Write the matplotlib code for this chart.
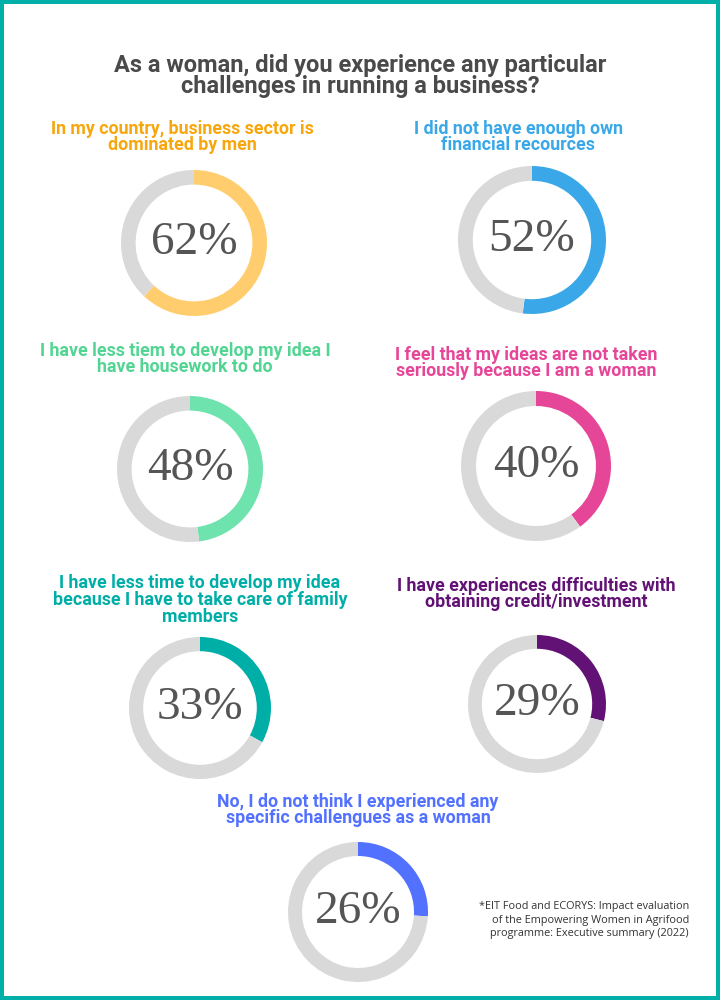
import matplotlib.pyplot as plt
from matplotlib.patches import Rectangle
from matplotlib import font_manager

# data
labels = [
    "In my country, business sector is\ndominated by men",
    "I did not have enough own\nfinancial recources",
    "I have less tiem to develop my idea I\nhave housework to do",
    "I feel that my ideas are not taken\nseriously because I am a woman",
    "I have less time to develop my idea\nbecause I have to take care of family\nmembers",
    "I have experiences difficulties with\nobtaining credit/investment",
    "No, I do not think I experienced any\nspecific challengues as a woman",
]
percents = [62, 52, 48, 40, 33, 29, 26]
ring_colors = ["#ffcd6e", "#3aa8e8", "#6ee3ad", "#e64697", "#00aea8", "#621275", "#5271ff"]
text_colors = ["#f7a70c", "#3aa8e8", "#52d492", "#e64697", "#00aea8", "#621275", "#5271ff"]

title = "As a woman, did you experience any particular\nchallenges in running a business?"
source = ("*EIT Food and ECORYS: Impact evaluation\n"
          "of the Empowering Women in Agrifood\n"
          "programme: Executive summary (2022)")

# layout in pixels (720 x 1000 canvas)
W, H = 720, 1000
centers = [(194, 243), (532, 240), (190, 469), (536, 466), (200, 708), (537, 704), (358, 912)]
radii = [73, 74, 73, 75, 71, 69, 70]
label_pos = [(182, 137), (518, 137), (185, 359), (526, 363), (200, 600), (536, 594), (358, 810)]

avail = {f.name for f in font_manager.fontManager.ttflist}
head_font = next((f for f in ["Liberation Sans Narrow", "Roboto", "Lato"] if f in avail), "DejaVu Sans")
num_font = next((f for f in ["Liberation Serif", "DejaVu Serif"] if f in avail), "serif")
foot_font = next((f for f in ["Open Sans", "Lato", "DejaVu Sans"] if f in avail), "DejaVu Sans")

fig = plt.figure(figsize=(7.2, 10), dpi=100)
fig.patch.set_facecolor("white")

bg = fig.add_axes([0, 0, 1, 1])
bg.set_xlim(0, W)
bg.set_ylim(H, 0)
bg.axis("off")
bg.add_patch(Rectangle((2, 2), W - 4, H - 4, fill=False, edgecolor="#00b0a8", linewidth=4 * 0.72))

bg.text(360, 76, title, ha="center", va="center", fontsize=17, fontweight="bold",
        color="#4a4a4a", family=head_font, linespacing=0.92)

for lab, p, rc, tc, (cx, cy), r, (lx, ly) in zip(labels, percents, ring_colors, text_colors,
                                                  centers, radii, label_pos):
    bg.text(lx, ly, lab, ha="center", va="center", fontsize=12.8, fontweight="bold",
            color=tc, family=head_font, linespacing=0.9)
    ax = fig.add_axes([(cx - r) / W, 1 - (cy + r) / H, 2 * r / W, 2 * r / H])
    ax.pie([p, 100 - p], colors=[rc, "#d9d9d9"], startangle=90, counterclock=False,
           radius=1, wedgeprops=dict(width=0.2, linewidth=0))
    ax.set_xlim(-1, 1)
    ax.set_ylim(-1, 1)
    ax.set_aspect("equal")
    ax.axis("off")
    ax.text(0, 0, f"{p}%", ha="center", va="center", fontsize=34,
            color="#555555", family=num_font)

bg.text(689, 920, source, ha="right", va="center", fontsize=7.8, color="#333333",
        family=foot_font, linespacing=1.3)

fig.savefig("out.png", dpi=100, facecolor="white")
